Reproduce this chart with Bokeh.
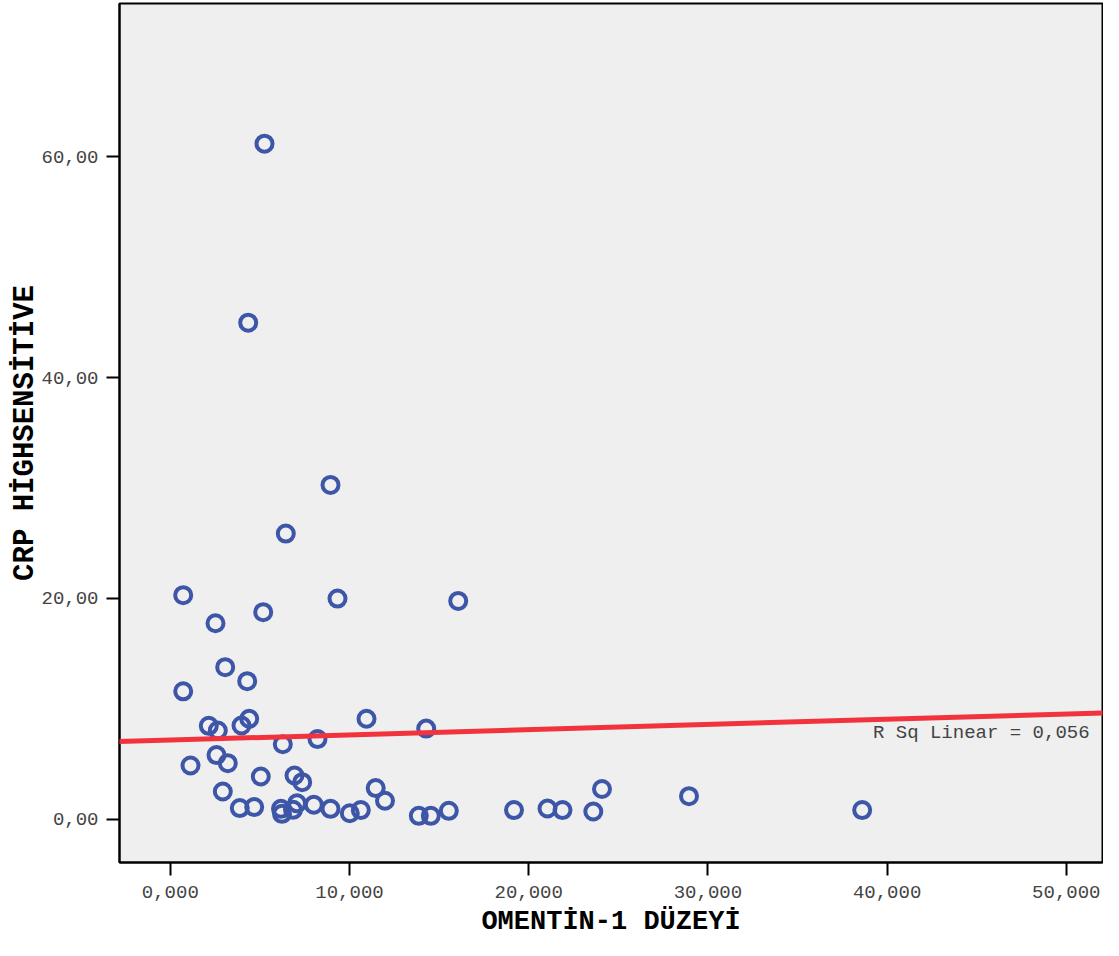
from bokeh.plotting import figure
from bokeh.models import Range1d, FixedTicker, Slope, Label, ColumnDataSource
from bokeh.embed import file_html
from bokeh.resources import INLINE

# ---- data ----
omentin = [5.257, 4.347, 8.940, 6.445, 0.720, 2.522, 5.184, 9.330, 16.066, 3.064,
           4.291, 0.720, 2.148, 2.651, 3.973, 4.403, 6.278, 8.214, 10.949, 14.280,
           1.127, 2.578, 3.209, 5.050, 6.931, 7.360, 2.930, 3.878, 4.682, 6.177,
           6.233, 6.847, 7.070, 8.008, 8.940, 10.017, 10.631, 11.462, 11.981, 13.867,
           14.537, 15.541, 19.180, 21.049, 21.886, 23.605, 24.090, 28.945, 38.610]
crp = [61.20, 44.98, 30.28, 25.87, 20.29, 17.75, 18.75, 19.98, 19.77, 13.77,
       12.50, 11.58, 8.45, 8.03, 8.48, 9.09, 6.79, 7.25, 9.09, 8.20,
       4.86, 5.80, 5.07, 3.86, 3.95, 3.35, 2.50, 1.00, 1.09, 0.93,
       0.48, 0.84, 1.43, 1.30, 0.93, 0.53, 0.82, 2.81, 1.66, 0.30,
       0.30, 0.75, 0.82, 0.96, 0.82, 0.69, 2.73, 2.08, 0.82]

fit_intercept = 7.16
fit_slope = 0.0473
r_sq_text = "R Sq Linear = 0,056"

x_ticks = [0, 10, 20, 30, 40, 50]
x_tick_labels = ["0,000", "10,000", "20,000", "30,000", "40,000", "50,000"]
y_ticks = [0, 20, 40, 60]
y_tick_labels = ["0,00", "20,00", "40,00", "60,00"]

x_title = "OMENTİN-1 DÜZEYİ"
y_title = "CRP HİGHSENSİTİVE"

# ---- figure ----
p = figure(width=1103, height=940, output_backend="svg", toolbar_location=None,
           x_range=Range1d(-2.835, 52.02), y_range=Range1d(-3.93, 73.9),
           min_border_left=119, min_border_right=1, min_border_top=3,
           min_border_bottom=78)

p.background_fill_color = "#EFEFEF"
p.border_fill_color = "white"
p.outline_line_color = "black"
p.outline_line_width = 2
p.xgrid.visible = False
p.ygrid.visible = False

font = "Liberation Mono"
for ax, ticks, labels in ((p.xaxis[0], x_ticks, x_tick_labels),
                          (p.yaxis[0], y_ticks, y_tick_labels)):
    ax.ticker = FixedTicker(ticks=ticks)
    ax.major_label_overrides = {t: l for t, l in zip(ticks, labels)}
    ax.axis_line_color = "black"
    ax.axis_line_width = 2
    ax.major_tick_line_color = "black"
    ax.major_tick_line_width = 2
    ax.major_tick_in = 0
    ax.major_tick_out = 13
    ax.minor_tick_line_color = None
    ax.major_label_text_font = font
    ax.major_label_text_font_size = "19px"
    ax.major_label_text_color = "#444444"
    ax.axis_label_text_font = font
    ax.axis_label_text_font_style = "bold"
    ax.axis_label_text_color = "black"

p.xaxis.axis_label = x_title
p.yaxis.axis_label = y_title
p.xaxis.axis_label_text_font_size = "27px"
p.yaxis.axis_label_text_font_size = "29px"
p.xaxis.major_label_standoff = 10
p.yaxis.major_label_standoff = 8
p.xaxis.axis_label_standoff = 6
p.yaxis.axis_label_standoff = -4

src = ColumnDataSource(dict(x=omentin, y=crp))
p.scatter("x", "y", source=src, marker="circle", size=16, line_width=4,
          line_color="#3D56A8", fill_alpha=0)

p.add_layout(Slope(gradient=fit_slope, y_intercept=fit_intercept,
                   line_color="#F2333D", line_width=5))

p.add_layout(Label(x=51.3, y=7.8, text=r_sq_text, text_align="right",
                   text_baseline="middle", text_font=font,
                   text_font_size="19px", text_color="#444444"))

open("out.html", "w").write(file_html(p, INLINE))
